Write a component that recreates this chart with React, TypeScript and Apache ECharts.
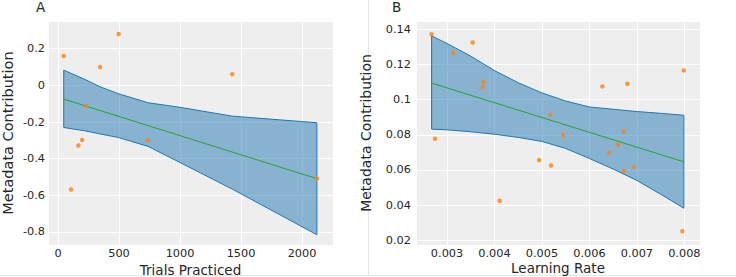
import React, { useEffect, useRef } from "react";
import * as echarts from "echarts";

// Panel A: Trials Practiced vs Metadata Contribution
const trialsX = [47, 107, 167, 198, 228, 345, 497, 738, 1428, 2122];
const trialsY = [0.16, -0.568, -0.328, -0.298, -0.112, 0.0995, 0.28, -0.3, 0.061, -0.509];
const trialsFitX = [47, 2122];
const trialsFitY = [-0.075, -0.509];
const trialsBandX = [47, 228, 345, 497, 738, 1000, 1428, 2122];
const trialsBandUpper = [0.083, 0.03, -0.008, -0.046, -0.095, -0.12, -0.168, -0.204];
const trialsBandLower = [-0.23, -0.249, -0.265, -0.285, -0.333, -0.421, -0.566, -0.815];

// Panel B: Learning Rate vs Metadata Contribution
const lrX = [0.002675, 0.002747, 0.003133, 0.00354, 0.00375, 0.00377, 0.004109, 0.004939, 0.005177, 0.005192,
  0.005445, 0.006273, 0.006414, 0.006604, 0.006722, 0.006722, 0.0068, 0.006933, 0.007959, 0.007987];
const lrY = [0.1372, 0.0777, 0.1266, 0.1325, 0.1071, 0.11, 0.0425, 0.0656, 0.0913, 0.0625,
  0.0798, 0.1075, 0.0699, 0.0744, 0.0818, 0.0595, 0.109, 0.0616, 0.0251, 0.1166];
const lrFitX = [0.002675, 0.00799];
const lrFitY = [0.1094, 0.0646];
const lrBandX = [0.002675, 0.003, 0.0035, 0.004, 0.0045, 0.005, 0.0055, 0.006, 0.0065, 0.007, 0.0075, 0.00799];
const lrBandUpper = [0.1362, 0.1319, 0.1247, 0.1165, 0.1096, 0.1038, 0.0992, 0.0958, 0.0945, 0.0932, 0.0922, 0.0911];
const lrBandLower = [0.0832, 0.0828, 0.0817, 0.0803, 0.0785, 0.0762, 0.0722, 0.0665, 0.0605, 0.054, 0.0462, 0.0382];

const FONT = "DejaVu Sans";
const TEXT = "#262626";
const BLUE = "#1f77b4";
const ORANGE = "#ff7f0e";
const GREEN = "#2ca02c";

function bandSeries(idx: number, xs: number[], up: number[], lo: number[]) {
  return {
    type: "custom",
    xAxisIndex: idx,
    yAxisIndex: idx,
    z: 1,
    silent: true,
    data: [[xs[0], up[0]]],
    renderItem: (_params: any, api: any) => {
      const pts: number[][] = [];
      for (let i = 0; i < xs.length; i++) pts.push(api.coord([xs[i], up[i]]));
      for (let i = xs.length - 1; i >= 0; i--) pts.push(api.coord([xs[i], lo[i]]));
      return {
        type: "polygon",
        shape: { points: pts },
        style: { fill: "rgba(31,119,180,0.5)", stroke: BLUE, lineWidth: 1 },
      };
    },
  };
}

const plainNum = (v: number) => String(Number(v.toPrecision(6)));

function xAxisCfg(idx: number, min: number, max: number, name: string, gap: number, nameSize: number) {
  return {
    type: "value",
    gridIndex: idx,
    min,
    max,
    name,
    nameLocation: "middle",
    nameGap: gap,
    nameMoveOverlap: false,
    nameTextStyle: { fontFamily: FONT, fontSize: nameSize, color: TEXT },
    axisLine: { show: false },
    axisTick: { show: false },
    axisLabel: {
      fontFamily: FONT, fontSize: 11.3, color: TEXT, margin: 3,
      showMinLabel: false, showMaxLabel: false, formatter: plainNum,
    },
    splitLine: { show: true, lineStyle: { color: "#ffffff", width: 1 } },
  };
}

function yAxisCfg(idx: number, min: number, max: number, name: string, gap: number, nameSize: number, margin: number, splitNumber: number) {
  return {
    type: "value",
    gridIndex: idx,
    min,
    max,
    splitNumber,
    name,
    nameLocation: "middle",
    nameGap: gap,
    nameMoveOverlap: false,
    nameTextStyle: { fontFamily: FONT, fontSize: nameSize, color: TEXT },
    axisLine: { show: false },
    axisTick: { show: false },
    axisLabel: {
      fontFamily: FONT, fontSize: 11.3, color: TEXT, margin,
      showMinLabel: false, showMaxLabel: false, formatter: plainNum,
    },
    splitLine: { show: true, lineStyle: { color: "#ffffff", width: 1 } },
  };
}

export default function App() {
  const ref = useRef<HTMLDivElement>(null);
  useEffect(() => {
    if (!ref.current) return;
    const chart = echarts.init(ref.current, null, { renderer: "svg" });
    chart.setOption({
      animation: false,
      backgroundColor: "#ffffff",
      grid: [
        { left: 48, top: 21, width: 285, height: 224, show: true, backgroundColor: "#eeeeee", borderWidth: 0, containLabel: false, outerBoundsMode: "none" },
        { left: 416, top: 21, width: 284, height: 224, show: true, backgroundColor: "#eeeeee", borderWidth: 0, containLabel: false, outerBoundsMode: "none" },
      ],
      xAxis: [
        xAxisCfg(0, -82, 2254, "Trials Practiced", 18, 13.5),
        xAxisCfg(1, 0.002346, 0.00833, "Learning Rate", 16, 13.5),
      ],
      yAxis: [
        yAxisCfg(0, -0.871, 0.351, "Metadata Contribution", 33, 14.5, 3, 5),
        yAxisCfg(1, 0.0173, 0.1447, "Metadata Contribution", 43, 14, 5, 6),
      ],
      graphic: [
        { type: "text", left: 36, top: 0, style: { text: "A", fontFamily: FONT, fontSize: 13.5, fill: TEXT } },
        { type: "text", left: 392, top: 0, style: { text: "B", fontFamily: FONT, fontSize: 13.5, fill: TEXT } },
        { type: "line", shape: { x1: 368.5, y1: 0, x2: 368.5, y2: 275 }, style: { stroke: "#e6e6e6", lineWidth: 1 } },
        { type: "line", shape: { x1: 0, y1: 275.5, x2: 736, y2: 275.5 }, style: { stroke: "#e6e6e6", lineWidth: 1 } },
      ],
      series: [
        bandSeries(0, trialsBandX, trialsBandUpper, trialsBandLower),
        {
          type: "line",
          xAxisIndex: 0,
          yAxisIndex: 0,
          z: 2,
          symbol: "none",
          lineStyle: { color: GREEN, width: 1 },
          data: trialsFitX.map((x, i) => [x, trialsFitY[i]]),
        },
        {
          type: "scatter",
          xAxisIndex: 0,
          yAxisIndex: 0,
          z: 3,
          symbolSize: 4.5,
          itemStyle: { color: ORANGE },
          data: trialsX.map((x, i) => [x, trialsY[i]]),
        },
        bandSeries(1, lrBandX, lrBandUpper, lrBandLower),
        {
          type: "line",
          xAxisIndex: 1,
          yAxisIndex: 1,
          z: 2,
          symbol: "none",
          lineStyle: { color: GREEN, width: 1 },
          data: lrFitX.map((x, i) => [x, lrFitY[i]]),
        },
        {
          type: "scatter",
          xAxisIndex: 1,
          yAxisIndex: 1,
          z: 3,
          symbolSize: 4.5,
          itemStyle: { color: ORANGE },
          data: lrX.map((x, i) => [x, lrY[i]]),
        },
      ],
    });
    return () => chart.dispose();
  }, []);
  return (
    <div
      ref={ref}
      style={{ position: "fixed", left: 0, top: 0, width: 736, height: 277 }}
    />
  );
}
